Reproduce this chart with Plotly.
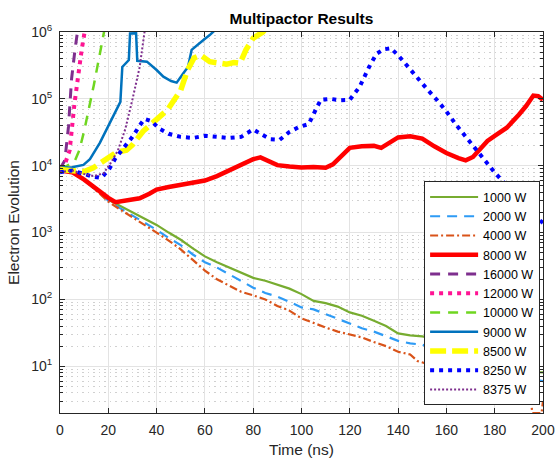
import plotly.graph_objects as go
import numpy as np

# ---------------- data ----------------
t_1000 = [0,5,10,15,20,25,30,35,40,45,50,55,60,65,70,75,80,85,90,95,100,105,110,115,120,125,130,135,140,145,150,160,170,180,190,195,200]
v_1000 = [9000,8300,6300,4400,3100,2500,2000,1600,1300,1000,780,580,440,360,300,250,210,190,165,145,120,95,88,78,64,57,48,40,31,29,28,24,18,13,9.5,8.2,8.1]

t_2000 = [0,5,10,15,20,25,30,35,40,45,50,55,60,65,70,75,80,85,90,95,100,105,110,115,120,125,130,135,140,145,150,160,170,180,190,197,200]
v_2000 = [9000,8200,6200,4300,3000,2300,1800,1400,1100,830,650,470,360,300,240,190,150,125,110,92,76,71,60,51,43,37,33,28,24,22,21,16,12,9,7,6.2,6.0]

t_4000 = [0,5,10,15,20,25,30,35,40,45,50,55,60,65,70,75,80,85,90,95,100,105,110,115,120,125,130,135,140,145,148,160,170,180,190,195,195.6,199.4,200]
v_4000 = [9000,8200,6200,4200,2900,2200,1700,1300,1000,760,560,390,270,200,160,130,115,100,80,68,52,44,38,33,30,27,23,20,16.5,15,12,9,6.5,5,3.8,3.0,2.0,2.0,3.0]

t_8000 = [0,5,10,15,20,23,27,30,33,37,40,45,50,55,60,65,70,75,80,83,87,90,95,100,105,110,113,117,120,125,130,133,136,140,145,150,155,160,165,168,171,174,177,180,185,190,193,196,198,200]
v_8000 = [8500,8000,6200,4500,3300,2850,3050,3200,3250,3800,4400,4800,5200,5500,6000,7000,8500,10000,12500,13300,11500,10200,9700,9400,9600,9300,10500,14500,18500,19500,19800,18500,21500,26500,27500,25500,19500,15500,13000,12000,13500,18000,23500,28000,37000,58000,78000,112000,110000,97000]

t_16000 = [0,2,3.5,4.8,6.2,7.2,8]
v_16000 = [9000,12000,38000,200000,540000,1000000,1600000]

t_12000 = [0,2,4,6,9,10.3,11]
v_12000 = [9000,10500,17000,85000,550000,1000000,1500000]

t_10000 = [0,3,6,8,10,12,14,16,18,19]
v_10000 = [9000,10000,11500,17000,33000,70000,160000,380000,900000,1400000]

t_9000 = [0,5,9.7,12.4,16.5,20.6,23,25,25.8,27,28.5,29,31.5,32,36,40,42.8,46,48.3,51,53,54.5,57,59.4,62,64]
v_9000 = [9300,9500,10300,12500,22000,44000,65000,90000,300000,330000,380000,950000,960000,370000,360000,270000,215000,185000,175000,240000,300000,540000,650000,760000,900000,1050000]

t_8500 = [0,5,9.7,13.8,18,23.5,27.5,30,34.5,40.5,44.6,50,52.8,55.5,58.2,62,66,69,72,74.5,77,80,84,86]
v_8500 = [8800,8500,8100,9300,12000,16000,17000,20500,33000,52000,69000,135000,270000,410000,450000,360000,340000,330000,350000,340000,540000,810000,1000000,1200000]

t_8250 = [0,5,10,14,17,20,23,27,30,33,35,38,41,45,50,55,60,65,70,75,80,83,87,91,95,99,103,106,108,112,116,120,124,128,131,134,137,140,144,148,152,156,160,164,168,172,176,180,184,188,192,196,200]
v_8250 = [8000,8500,7500,6800,6600,8500,13000,20000,27000,40000,50000,46000,36000,30000,27000,26000,28000,27000,26000,27000,35000,30000,25000,24500,32000,38000,42000,70000,97000,100000,95000,97000,150000,300000,470000,550000,570000,450000,300000,200000,140000,97000,65000,41000,27000,17500,11500,7900,5500,4000,2900,1800,1400]

t_8375 = [0,5,10,14,18,21,24,27,30,33,35,37]
v_8375 = [8000,8500,7500,7000,7700,11000,17000,35000,98000,300000,1000000,2000000]

y_tick_vals = [10, 100, 1000, 10000, 100000, 1000000]
y_tick_text = ["10<sup>1</sup>", "10<sup>2</sup>", "10<sup>3</sup>", "10<sup>4</sup>", "10<sup>5</sup>", "10<sup>6</sup>"]
x_tick_vals = [0, 20, 40, 60, 80, 100, 120, 140, 160, 180, 200]

# ---------------- figure ----------------
series = [
    ("1000 W", t_1000, v_1000, "#77AC30", 2.2, "solid"),
    ("2000 W", t_2000, v_2000, "#2E9BF5", 2.2, "10px,7px"),
    ("4000 W", t_4000, v_4000, "#D95319", 2.2, "8px,3px,2px,3px"),
    ("8000 W", t_8000, v_8000, "#FF0000", 4.5, "solid"),
    ("16000 W", t_16000, v_16000, "#7E2F8E", 3, "10px,8px"),
    ("12000 W", t_12000, v_12000, "#FF1493", 4, "4px,5px"),
    ("10000 W", t_10000, v_10000, "#6FD620", 2.5, "10px,8px"),
    ("9000 W", t_9000, v_9000, "#0072BD", 2.5, "solid"),
    ("8500 W", t_8500, v_8500, "#FFFF00", 5.5, "16px,6px"),
    ("8250 W", t_8250, v_8250, "#0000FF", 4, "4px,5px"),
    ("8375 W", t_8375, v_8375, "#7E2F8E", 2, "2px,2px"),
]

fig = go.Figure()
for name, t, v, color, w, dash in series:
    fig.add_trace(go.Scatter(x=t, y=v, mode="lines", name=name,
                             line=dict(color=color, width=w, dash=dash)))

minor_vals = [m * 10**k for k in range(0, 6) for m in range(2, 10)]

axis_col = "#262626"
fig.update_layout(
    width=556, height=460,
    paper_bgcolor="white", plot_bgcolor="white",
    margin=dict(l=60, r=13, t=32, b=47),
    font=dict(family="Liberation Sans, Arial, sans-serif", size=14, color=axis_col),
    title=dict(text="<b>Multipactor Results</b>", x=0.5, xref="paper", xanchor="center",
               y=1 - 19 / 460, yref="container", yanchor="middle",
               font=dict(size=15.5, color="black")),
    showlegend=True,
    legend=dict(x=0.994, y=0.02, xanchor="right", yanchor="bottom",
                bgcolor="white", bordercolor=axis_col, borderwidth=1,
                font=dict(size=12.5, color="black"), tracegroupgap=0,
                itemwidth=48),
    annotations=[dict(text="Time (ns)", xref="paper", yref="paper", x=0.5, y=-36 / 381,
                      xanchor="center", yanchor="middle", showarrow=False,
                      font=dict(size=15.5, color=axis_col))],
)
fig.update_xaxes(range=[0, 200], tickvals=x_tick_vals, showgrid=True, automargin=False,
                 gridcolor="#E3E3E3", gridwidth=1, zeroline=False,
                 showline=True, linecolor=axis_col, linewidth=1, mirror="ticks",
                 ticks="inside", ticklen=5, tickcolor=axis_col, ticklabelstandoff=4)
fig.update_yaxes(type="log", range=[np.log10(2), 6], tickvals=y_tick_vals, ticktext=y_tick_text,
                 showgrid=True, gridcolor="#E3E3E3", gridwidth=1, zeroline=False, automargin=False,
                 showline=True, linecolor=axis_col, linewidth=1, mirror="ticks",
                 ticks="inside", ticklen=5, tickcolor=axis_col, ticklabelstandoff=4,
                 minor=dict(tickvals=minor_vals, ticks="inside", ticklen=3, tickcolor=axis_col,
                            showgrid=True, gridcolor="#D0D0D0", griddash="1.5px,4px", gridwidth=1),
                 title=dict(text="Electron Evolution", font=dict(size=15.5), standoff=7))

# remove the default 8px page margin so the 556x460 figure fills the window exactly
fig.write_html("out.html", config={"displayModeBar": False},
               post_script="document.body.style.margin='0';document.body.style.overflow='hidden';")
